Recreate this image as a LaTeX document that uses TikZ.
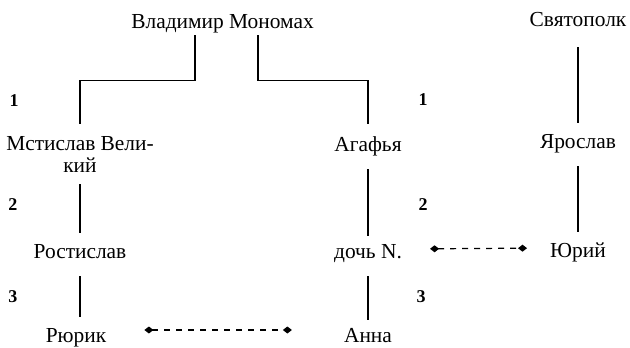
\documentclass[tikz,border=0pt]{standalone}
\usepackage{fontspec}
\setmainfont{Liberation Serif}
\usetikzlibrary{arrows.meta}

\begin{document}
\begin{tikzpicture}[x=1pt,y=-1pt,
    font=\fontsize{21.4}{22}\selectfont,
    person/.style={inner sep=0pt, text height=15pt, text depth=5pt, anchor=base},
    gen/.style={font=\fontsize{18}{18}\selectfont\bfseries, inner sep=0pt},
    line/.style={draw, line width=1.2pt, shorten <=13pt, shorten >=10pt},
    branch/.style={draw, line width=1.2pt},
    marriage/.style={draw, line width=1.2pt, dash pattern=on 6pt off 6pt,
      {Diamond[length=9pt,width=7pt]}-{Diamond[length=9pt,width=7pt]}},
    ]
    \useasboundingbox (0,0) rectangle (630,348);
    % Place nodes
    \node [person] (vm) at (222.5,28) {Владимир Мономах};
    \node [person] (svp) at (578,27) {Святополк};
    \node [anchor=north, inner sep=0pt, align=center] (mst) at (80,136) {Мстислав Вели-\\кий};
    \node [person] (agf) at (368,151) {Агафья};
    \node [person] (yar) at (578,148) {Ярослав};
    \node [person] (ros) at (80,258) {Ростислав};
    \node [person] (doch) at (368,258) {дочь N.};
    \node [person] (yur) at (578,257) {Юрий};
    \node [person] (rur) at (76,342) {Рюрик};
    \node [person] (anna) at (368,342) {Анна};

    % Generations
    \node [gen] (g1l) at (14,101) {1};
    \node [gen] (g2l) at (13,205) {2};
    \node [gen] (g3l) at (13,297) {3};
    \node [gen] (g1r) at (423,100) {1};
    \node [gen] (g2r) at (423,205) {2};
    \node [gen] (g3r) at (421,297) {3};

    % Draw edges
    \path [branch] ([xshift=-27.5pt,yshift=-2pt]vm.south) -- ++(0,45) -| ([yshift=12pt]mst.north);
    \path [branch] ([xshift=35.5pt,yshift=-2pt]vm.south) -- ++(0,45) -| ([yshift=12pt]agf.north);
    \path [line, shorten <=12pt] (mst.south) -- (ros.north);
    \path [line] (ros.south) -- (ros.south |- rur.north);
    \path [line, shorten >=7pt] (agf) -- (doch);
    \path [line, shorten >=7pt] (doch) -- (anna);
    \path [line, shorten <=15pt] (svp) -- (yar);
    \path [line] (yar) -- (yur);

    \path [marriage, shorten <=28pt, shorten >=23pt] ([yshift=4pt]doch.east) -- ([yshift=4pt]yur.west);
    \path [marriage, shorten <=38pt, shorten >=52pt] ([yshift=7pt]rur.east) -- ([yshift=7pt]anna.west);
  \end{tikzpicture}
\end{document}
